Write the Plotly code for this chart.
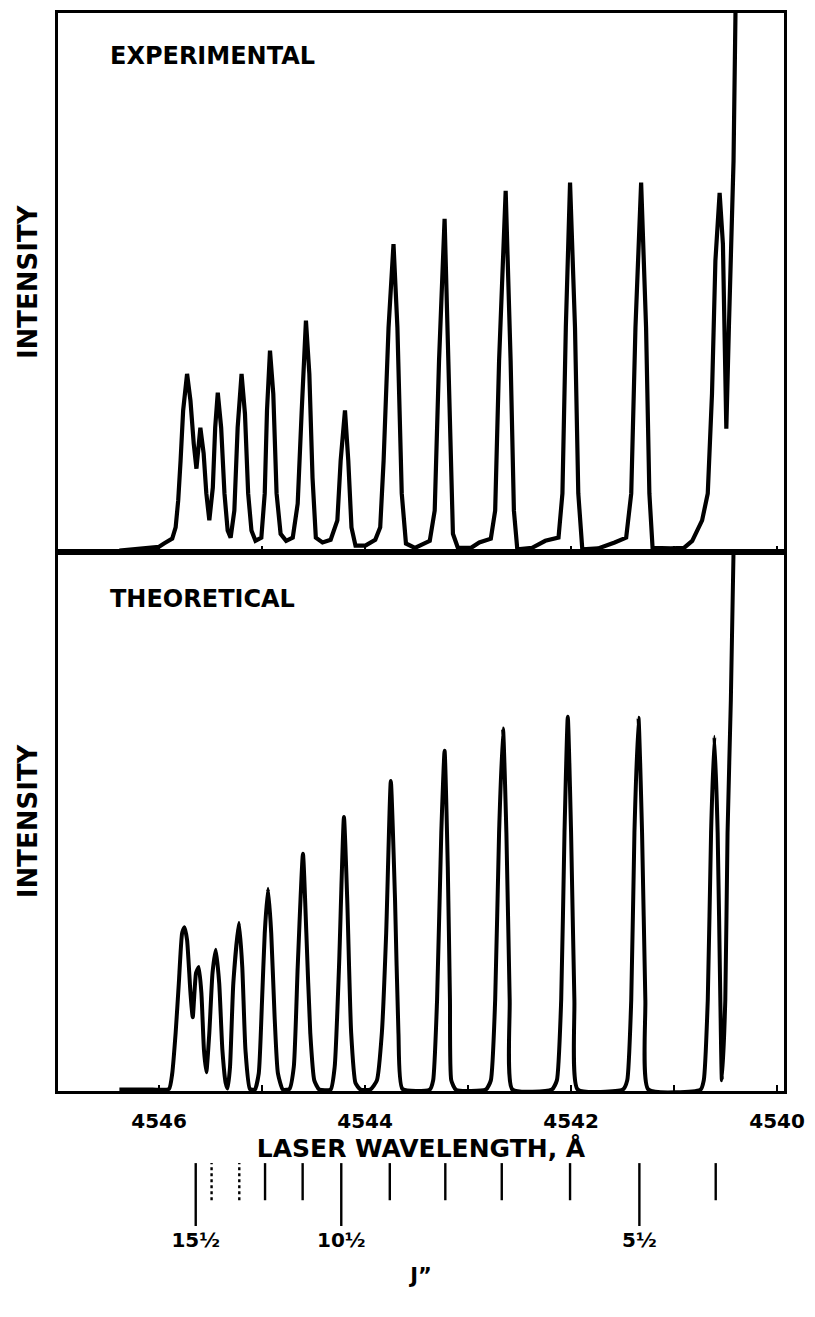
import plotly.graph_objects as go

# ---------------- data ----------------
# Experimental laser-excitation spectrum: wavelength (Å) vs relative intensity (0-100 = panel height)
exp_wavelength = [
    4546.385, 4546.192, 4546.000, 4545.952, 4545.872, 4545.839, 4545.814, 4545.791, 4545.766, 4545.728,
    4545.695, 4545.663, 4545.637, 4545.599, 4545.567, 4545.541, 4545.512, 4545.478, 4545.455, 4545.430,
    4545.397, 4545.365, 4545.334, 4545.305, 4545.269, 4545.237, 4545.199, 4545.166, 4545.135, 4545.103,
    4545.064, 4545.007, 4544.974, 4544.952, 4544.923, 4544.891, 4544.859, 4544.820, 4544.766, 4544.702,
    4544.654, 4544.615, 4544.574, 4544.541, 4544.510, 4544.478, 4544.413, 4544.334, 4544.269, 4544.237,
    4544.195, 4544.163, 4544.132, 4544.093, 4543.997, 4543.901, 4543.853, 4543.820, 4543.772, 4543.724,
    4543.686, 4543.644, 4543.603, 4543.516, 4543.372, 4543.324, 4543.282, 4543.228, 4543.192, 4543.166,
    4543.147, 4543.099, 4542.971, 4542.891, 4542.779, 4542.737, 4542.699, 4542.635, 4542.587, 4542.555,
    4542.522, 4542.378, 4542.250, 4542.122, 4542.084, 4542.051, 4542.010, 4541.962, 4541.930, 4541.891,
    4541.737, 4541.577, 4541.465, 4541.416, 4541.375, 4541.320, 4541.272, 4541.240, 4541.209, 4541.032,
    4540.904, 4540.824, 4540.728, 4540.673, 4540.632, 4540.599, 4540.558, 4540.526, 4540.493, 4540.468,
    4540.423, 4540.404,
]
exp_intensity = [
    0.2, 0.5, 0.9, 1.5, 2.4, 4.5, 9.5, 16.9, 26.2, 33.0,
    28.0, 20.0, 15.4, 23.0, 18.2, 10.8, 5.8, 11.9, 23.0, 29.5,
    23.0, 10.8, 3.9, 2.6, 7.6, 23.0, 33.0, 25.6, 10.8, 3.9,
    2.0, 2.6, 10.8, 26.2, 37.3, 29.3, 10.8, 3.3, 2.0, 2.6,
    8.9, 26.2, 42.9, 33.0, 13.7, 2.6, 1.7, 2.2, 5.8, 16.9,
    26.2, 16.9, 4.5, 1.1, 1.1, 2.2, 4.5, 16.9, 41.6, 57.1,
    41.6, 10.8, 1.5, 0.7, 2.0, 7.6, 35.4, 61.8, 35.4, 15.0,
    3.3, 0.7, 0.7, 1.7, 2.4, 7.6, 35.4, 67.0, 35.4, 7.6,
    0.4, 0.7, 2.0, 2.6, 10.8, 41.6, 68.5, 41.6, 10.8, 0.4,
    0.6, 1.7, 2.6, 10.8, 41.6, 68.5, 41.6, 10.8, 0.7, 0.6,
    0.7, 2.0, 5.8, 10.8, 29.3, 54.0, 66.6, 57.1, 22.8, 41.6,
    72.5, 100.0,
]

# Theoretical spectrum
theo_wavelength = [
    4546.385, 4546.064, 4545.904, 4545.872, 4545.839, 4545.808, 4545.776, 4545.753, 4545.728, 4545.695,
    4545.673, 4545.641, 4545.615, 4545.589, 4545.564, 4545.541, 4545.512, 4545.481, 4545.449, 4545.416,
    4545.385, 4545.353, 4545.334, 4545.311, 4545.279, 4545.224, 4545.192, 4545.161, 4545.118, 4545.070,
    4545.032, 4545.000, 4544.974, 4544.942, 4544.911, 4544.878, 4544.846, 4544.798, 4544.734, 4544.692,
    4544.654, 4544.603, 4544.570, 4544.532, 4544.493, 4544.445, 4544.334, 4544.295, 4544.253, 4544.205,
    4544.173, 4544.135, 4544.093, 4544.045, 4543.949, 4543.885, 4543.837, 4543.795, 4543.750, 4543.709,
    4543.676, 4543.637, 4543.372, 4543.339, 4543.301, 4543.260, 4543.228, 4543.197, 4543.176, 4543.163,
    4543.115, 4542.827, 4542.779, 4542.737, 4542.699, 4542.661, 4542.628, 4542.596, 4542.570, 4542.186,
    4542.138, 4542.096, 4542.064, 4542.032, 4542.000, 4541.968, 4541.936, 4541.497, 4541.455, 4541.416,
    4541.385, 4541.346, 4541.311, 4541.279, 4541.250, 4540.743, 4540.712, 4540.673, 4540.641, 4540.609,
    4540.577, 4540.551, 4540.536, 4540.503, 4540.481, 4540.449, 4540.423,
]
theo_intensity = [
    0.3, 0.3, 0.4, 3.3, 10.8, 20.0, 29.3, 30.4, 28.0, 18.2,
    13.7, 21.9, 23.0, 18.2, 7.6, 3.5, 10.8, 21.9, 26.2, 20.0,
    7.6, 1.5, 0.5, 4.5, 20.0, 31.2, 23.0, 7.6, 0.4, 0.3,
    3.3, 16.9, 29.3, 37.5, 29.3, 13.7, 3.3, 0.3, 0.4, 4.5,
    23.0, 44.0, 29.3, 10.8, 2.0, 0.3, 0.3, 4.5, 23.0, 50.8,
    35.4, 10.8, 1.5, 0.3, 0.3, 2.0, 10.8, 29.3, 57.5, 35.4,
    10.8, 0.4, 0.3, 2.0, 16.9, 47.9, 63.1, 41.6, 16.9, 2.0,
    0.2, 0.3, 2.0, 16.9, 47.9, 67.2, 47.9, 16.9, 0.3, 0.3,
    2.0, 16.9, 47.9, 69.4, 47.9, 16.9, 0.3, 0.3, 2.0, 16.9,
    47.9, 69.2, 47.9, 16.9, 0.3, 0.3, 2.0, 16.9, 47.9, 65.7,
    47.9, 16.9, 2.0, 16.9, 47.9, 72.5, 100.0,
]

# Wavelength axis ticks
axis_tick_values = [4546, 4545, 4544, 4543, 4542, 4541, 4540]
axis_tick_labels = ["4546", "", "4544", "", "4542", "", "4540"]

# Rotational assignment J'' of the lines
j_values = [15.5, 14.5, 13.5, 12.5, 11.5, 10.5, 9.5, 8.5, 7.5, 6.5, 5.5, 4.5]
j_wavelength = [4545.644, 4545.490, 4545.221, 4544.971, 4544.606, 4544.231,
                4543.760, 4543.221, 4542.673, 4542.010, 4541.337, 4540.596]
j_labelled = [15.5, 10.5, 5.5]
j_label_text = ["15½", "10½", "5½"]
j_dotted = [14.5, 13.5]

# ---------------- figure ----------------
FONT = "DejaVu Sans"
X_RANGE = [4546.981, 4539.933]

fig = go.Figure()
fig.add_trace(go.Scatter(
    x=exp_wavelength, y=exp_intensity, xaxis="x", yaxis="y", mode="lines",
    line=dict(color="black", width=4.2), showlegend=False, hoverinfo="skip"))
fig.add_trace(go.Scatter(
    x=theo_wavelength, y=theo_intensity, xaxis="x2", yaxis="y2", mode="lines",
    line=dict(color="black", width=4.0, shape="spline", smoothing=0.5),
    showlegend=False, hoverinfo="skip"))

# J'' tick marks
for dotted in (False, True):
    xs, ys = [], []
    for j, lam in zip(j_values, j_wavelength):
        if (j in j_dotted) != dotted:
            continue
        y0 = 0.0 if j in j_labelled else 0.41
        xs += [lam, lam, None]
        ys += [y0, 1.0, None]
    fig.add_trace(go.Scatter(
        x=xs, y=ys, xaxis="x3", yaxis="y3", mode="lines",
        line=dict(color="black", width=2.4, dash="dot" if dotted else "solid"),
        showlegend=False, hoverinfo="skip"))

frame = dict(showline=True, linecolor="black", linewidth=2.8, mirror=True,
             showgrid=False, zeroline=False)
xcommon = dict(frame, range=X_RANGE, ticks="inside", ticklen=6, tickwidth=2,
               tickcolor="black", tickvals=axis_tick_values)
ycommon = dict(frame, range=[0, 100], ticks="", showticklabels=False)

bold = dict(family=FONT, color="black", weight="bold")

fig.update_layout(
    width=815, height=1317,
    margin=dict(l=58, r=21, t=12, b=10),
    paper_bgcolor="white", plot_bgcolor="white",
    font=dict(bold),
    xaxis=dict(xcommon, domain=[0, 1], anchor="y", showticklabels=False),
    xaxis2=dict(xcommon, domain=[0, 1], anchor="y2", ticktext=axis_tick_labels,
                tickfont=dict(bold, size=20),
                ticklabelstandoff=10, ticklabeloverflow="allow",
                title=dict(text="LASER WAVELENGTH, Å", font=dict(bold, size=25), standoff=8)),
    xaxis3=dict(domain=[0, 1], anchor="y3", range=X_RANGE, showline=False,
                showgrid=False, zeroline=False, ticks="",
                tickvals=[j_wavelength[j_values.index(j)] for j in j_labelled],
                ticktext=j_label_text,
                tickfont=dict(bold, size=20),
                title=dict(text="J”", font=dict(bold, size=21), standoff=17)),
    yaxis=dict(ycommon, domain=[0.58378, 1],
               title=dict(text="INTENSITY", font=dict(bold, size=26), standoff=10)),
    yaxis2=dict(ycommon, domain=[0.16680, 0.58378],
                title=dict(text="INTENSITY", font=dict(bold, size=26), standoff=10)),
    yaxis3=dict(domain=[0.06255, 0.11120], range=[0, 1], visible=False),
    annotations=[
        dict(text="EXPERIMENTAL", xref="paper", yref="paper", x=0.0682, y=0.9668,
             xanchor="left", yanchor="middle", showarrow=False,
             font=dict(bold, size=24)),
        dict(text="THEORETICAL", xref="paper", yref="paper", x=0.0682, y=0.5475,
             xanchor="left", yanchor="middle", showarrow=False,
             font=dict(bold, size=24)),
    ],
)

fig.write_html("out.html")
